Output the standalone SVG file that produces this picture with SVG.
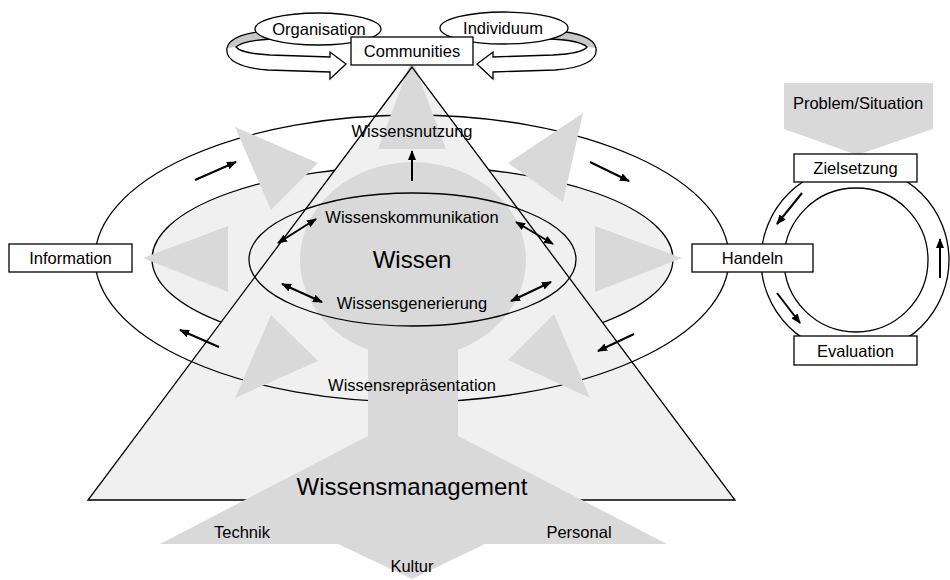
<svg xmlns="http://www.w3.org/2000/svg" width="950" height="580" viewBox="0 0 950 580">
<defs>
<style>
.ln{fill:none;stroke:#000;stroke-width:1.3}
.box{fill:#fff;stroke:#000;stroke-width:1.3}
.g{fill:#d9d9d9}
.lg{fill:#f0f0f0}
.band{fill:#c8c8c8}
.t{font-family:"Liberation Sans",Arial,sans-serif;font-size:16.5px;text-anchor:middle;fill:#000}
.big{font-size:24px}
.ar{stroke:#000;stroke-width:2;fill:none;marker-end:url(#ah)}
.dar{marker-start:url(#ah)}
</style>
<marker id="ah" viewBox="0 0 10 8" refX="9" refY="4" markerWidth="10" markerHeight="8" markerUnits="userSpaceOnUse" orient="auto-start-reverse">
<path d="M0,0 L10,4 L0,8 z" fill="#000"/>
</marker>
</defs>
<rect width="950" height="580" fill="#fff"/>

<g id="middle-ring">
<ellipse cx="412.5" cy="259" rx="260.5" ry="93" class="lg" stroke="#000" stroke-width="1.3"/>
</g>
<g id="triangle-fill">
<polygon points="412,67 88,500 735,500" class="lg"/>
</g>
<g id="outer-ring">
<ellipse cx="412" cy="258.5" rx="317" ry="143.5" class="ln"/>
</g>
<g id="gray-arrowheads">
<polygon class="g" points="412,58 378,149 446,149"/>
<polygon class="g" points="235,127 318,163 271,210"/>
<polygon class="g" points="143,258 228,226 228,292"/>
<polygon class="g" points="235,398 271,315 318,361"/>
<polygon class="g" points="583,113 508,163 563,202"/>
<polygon class="g" points="682,258 595,226 595,292"/>
<polygon class="g" points="590,398 554,314 508,360"/>
</g>
<g id="triangle-outline">
<polygon points="412,67 88,500 735,500" class="ln"/>
</g>
<g id="wissensmanagement">
<ellipse cx="413" cy="260" rx="113" ry="98" class="g"/>
<rect x="368" y="300" width="90" height="140" class="g"/>
<polygon class="g" points="368,436 160,544 338,544 412,579 485,544 667,544 458,436"/>
<text class="t big" x="412" y="495">Wissensmanagement</text>
<text class="t" x="242" y="538">Technik</text>
<text class="t" x="579" y="538">Personal</text>
<text class="t" x="412" y="572">Kultur</text>
</g>
<g id="inner-ring">
<ellipse cx="412.5" cy="259.5" rx="163.5" ry="66.5" class="ln"/>
</g>
<g id="labels">
<text class="t" x="412" y="137">Wissensnutzung</text>
<text class="t" x="412" y="223">Wissenskommunikation</text>
<text class="t big" x="412" y="268">Wissen</text>
<text class="t" x="412" y="309">Wissensgenerierung</text>
<text class="t" x="412" y="391">Wissensrepräsentation</text>
</g>

<g id="problem-situation">
<polygon class="g" points="784,83 933,83 933,129 857,155 784,129"/>
<text class="t" x="858" y="109">Problem/Situation</text>
</g>
<g id="cycle">
<circle cx="855" cy="260" r="94" class="ln"/>
<circle cx="856" cy="260" r="72" class="ln"/>
</g>

<g id="connectors">
<line class="ar" x1="195" y1="180" x2="236" y2="162"/>
<line class="ar" x1="590" y1="162" x2="629" y2="181"/>
<line class="ar" x1="634" y1="334" x2="598" y2="351"/>
<line class="ar" x1="219" y1="347" x2="180" y2="330"/>
<line class="ar dar" x1="278" y1="243" x2="316" y2="219"/>
<line class="ar dar" x1="282" y1="284" x2="322" y2="302"/>
<line class="ar dar" x1="516" y1="222" x2="553" y2="244"/>
<line class="ar dar" x1="511" y1="301" x2="551" y2="282"/>
<line class="ar" x1="412" y1="181" x2="412" y2="151"/>
<line class="ar" x1="802" y1="193" x2="777" y2="224"/>
<line class="ar" x1="777" y1="293" x2="800" y2="323"/>
<line class="ar" x1="940" y1="278" x2="940" y2="239"/>
</g>

<g id="information">
<rect x="9" y="244" width="123" height="28" class="box"/>
<text class="t" x="70.5" y="264">Information</text>
</g>
<g id="handeln">
<rect x="692" y="244" width="121" height="28" class="box"/>
<text class="t" x="752.5" y="264">Handeln</text>
</g>
<g id="zielsetzung">
<rect x="794" y="154" width="123" height="28" class="box"/>
<text class="t" x="855.5" y="174">Zielsetzung</text>
</g>
<g id="evaluation">
<rect x="794" y="336" width="123" height="29" class="box"/>
<text class="t" x="855.5" y="357">Evaluation</text>
</g>

<g id="band-left">
<path class="band" d="M290,30 L268,31 C246,32 229,38 227,48 L236,47 C240,43 252,40 272,39 L290,38 Z"/>
<path class="ln" d="M290,30 L268,31 C246,32 229,38 227,48 C225,60 240,68 268,70 L330,72 L330,79 L346,64 L330,52 L330,57 L270,55 C252,54 239,51 236,47 C240,43 252,40 272,39 L290,38"/>
</g>
<g id="band-right" transform="translate(823,0) scale(-1,1)">
<path class="band" d="M290,30 L268,31 C246,32 229,38 227,48 L236,47 C240,43 252,40 272,39 L290,38 Z"/>
<path class="ln" d="M290,30 L268,31 C246,32 229,38 227,48 C225,60 240,68 268,70 L330,72 L330,79 L346,64 L330,52 L330,57 L270,55 C252,54 239,51 236,47 C240,43 252,40 272,39 L290,38"/>
</g>
<g id="organisation">
<ellipse cx="318" cy="29" rx="63" ry="16" class="box"/>
<text class="t" x="319" y="35">Organisation</text>
</g>
<g id="individuum">
<ellipse cx="504" cy="28" rx="64" ry="16" class="box"/>
<text class="t" x="503" y="34">Individuum</text>
</g>
<g id="communities">
<rect x="351" y="37" width="122" height="28" class="box"/>
<text class="t" x="412" y="57">Communities</text>
</g>
</svg>
